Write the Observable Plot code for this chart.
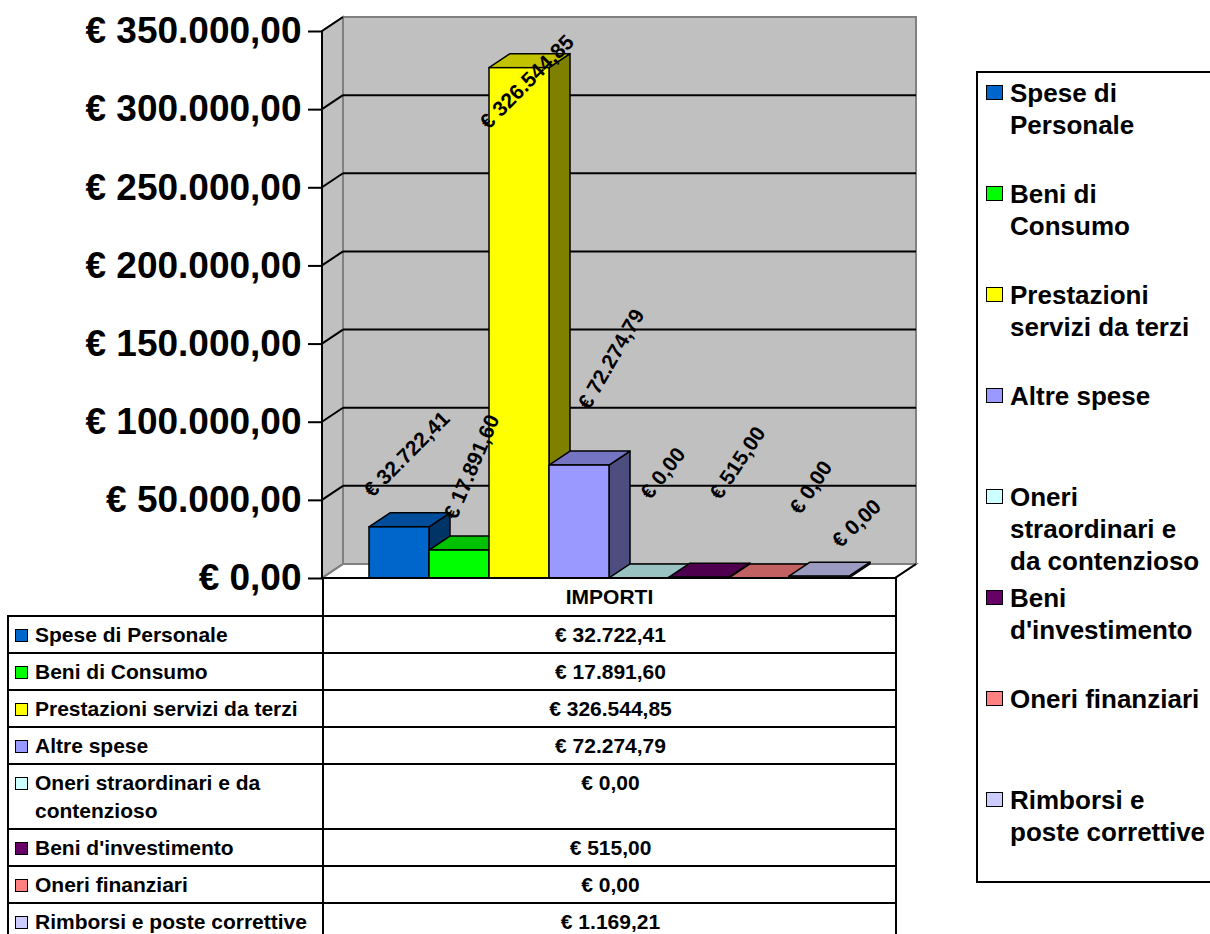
<!DOCTYPE html>
<html>
<head>
<meta charset="utf-8">
<script src="https://cdn.jsdelivr.net/npm/d3@7"></script>
<script src="https://cdn.jsdelivr.net/npm/@observablehq/plot@0.6"></script>
<style>
  html, body { margin: 0; padding: 0; background: #fff; }
  body { width: 1210px; height: 934px; overflow: hidden; position: relative;
         font-family: "Liberation Sans", Arial, sans-serif; }
  #chart { position: absolute; left: 0; top: 0; }
  #datatable { position: absolute; left: 7px; top: 577px; border-collapse: collapse;
               table-layout: fixed; font: bold 21px "Liberation Sans", Arial, sans-serif;
               line-height: 28px; color: #000; }
  #datatable td { padding: 4px 4px 3px 6px; vertical-align: top; }
  #datatable td.val { text-align: center; border: 2px solid #000; }
  #datatable td.cat { border: 2px solid #000; }
  #datatable td.blank { border: none; border-right: 2px solid #000; }
  #datatable td.head { border: 2px solid #000; text-align: center; vertical-align: middle; padding: 4px; }
  .catwrap { display: flex; align-items: flex-start; }
  .tmark { flex: none; width: 13px; height: 13px; box-sizing: border-box; border: 1.5px solid #000;
           margin-top: 8px; margin-right: 7px; }
  #legend { position: absolute; left: 976px; top: 71px; width: 260px; height: 812px;
            border: 2px solid #000; box-sizing: border-box; background: #fff; }
  .litem { position: absolute; left: 8px; }
  .lmark { position: absolute; left: 0; top: 8px; width: 17px; height: 15px; box-sizing: border-box;
           border: 1.5px solid #000; }
  .ltext { position: absolute; left: 24px; width: 200px; font: bold 26px "Liberation Sans", Arial, sans-serif;
           line-height: 32px; color: #000; }
</style>
</head>
<body>
<div id="chart"></div>
<script>
// ---------- data ----------
const categories = [
  "Spese di Personale",
  "Beni di Consumo",
  "Prestazioni servizi da terzi",
  "Altre spese",
  "Oneri straordinari e da contenzioso",
  "Beni d'investimento",
  "Oneri finanziari",
  "Rimborsi e poste correttive"
];
const values = [32722.41, 17891.60, 326544.85, 72274.79, 0, 515.00, 0, 1169.21];
const chartLabels = ["€ 32.722,41", "€ 17.891,60", "€ 326.544,85", "€ 72.274,79", "€ 0,00", "€ 515,00", "€ 0,00", "€ 0,00"];
const seriesColors = ["#0066CC", "#00FF00", "#FFFF00", "#9999FF", "#CCFFFF", "#660066", "#FF8080", "#CCCCFF"];
const yTicks = [0, 50000, 100000, 150000, 200000, 250000, 300000, 350000];
const columnHeader = "IMPORTI";

// ---------- styles (not data) ----------
const labelAngles = [-45, -67, -45, -60, -52, -56, -56, -44];
const labelOffsets = [[-27, -29], [-3, -30], [-31, 62], [10, -55], [11, -78], [21, -77], [41, -63], [21, -28]];
const DX = 21, DY = -14;
const WALL = "#C0C0C0", EDGE = "#808080";
const FONT = "Liberation Sans, Arial, sans-serif";

const rows = categories.map((name, i) => ({name, value: values[i], color: seriesColors[i], label: chartLabels[i]}));
const fmt = d3.formatLocale({decimal: ",", thousands: ".", grouping: [3], currency: ["€ ", ""]}).format("$,.2f");

function shade(c, k) {
  const r = d3.rgb(c);
  return d3.rgb(r.r * k, r.g * k, r.b * k).formatHex();
}

// walls, floor, gridlines, axis line
function scene(index, scales, vals, dims) {
  const y = scales.y;
  const L = dims.marginLeft, R = dims.width - dims.marginRight;
  const y0 = y(0), yTop = y(d3.max(yTicks));
  const g = d3.create("svg:g");
  g.append("path")
    .attr("d", `M${L},${yTop}L${L + DX},${yTop + DY}L${L + DX},${y0 + DY}L${L},${y0}Z`)
    .attr("fill", WALL).attr("stroke", EDGE).attr("stroke-width", 2);
  g.append("rect")
    .attr("x", L + DX).attr("y", yTop + DY).attr("width", R - L).attr("height", y0 - yTop)
    .attr("fill", WALL).attr("stroke", EDGE).attr("stroke-width", 2);
  g.append("path")
    .attr("d", `M${L},${y0}L${R},${y0}L${R + DX},${y0 + DY}L${L + DX},${y0 + DY}Z`)
    .attr("fill", "#fff").attr("stroke", EDGE).attr("stroke-width", 2);
  for (const v of yTicks) {
    const yy = y(v);
    if (v > 0 && v < d3.max(yTicks)) {
      g.append("line").attr("x1", L + DX).attr("x2", R + DX).attr("y1", yy + DY).attr("y2", yy + DY)
        .attr("stroke", "#000").attr("stroke-width", 2);
    }
    g.append("line").attr("x1", L).attr("x2", L + DX).attr("y1", yy).attr("y2", yy + DY)
      .attr("stroke", v === 0 ? EDGE : "#000").attr("stroke-width", 2);
  }
  g.append("line").attr("x1", R).attr("x2", R + DX).attr("y1", y0).attr("y2", y0 + DY)
    .attr("stroke", "#000").attr("stroke-width", 2);
  g.append("line").attr("x1", L).attr("x2", R).attr("y1", y0).attr("y2", y0)
    .attr("stroke", "#000").attr("stroke-width", 2);
  g.append("line").attr("x1", L).attr("x2", L).attr("y1", yTop).attr("y2", y0)
    .attr("stroke", "#000").attr("stroke-width", 2);
  return g.node();
}

// 3D tops and sides of the bars
function depthFaces(index, scales) {
  const {x, y} = scales;
  const bw = x.bandwidth ? x.bandwidth() : (x(categories[1]) - x(categories[0]));
  const g = d3.create("svg:g");
  for (const d of rows) {
    const x0 = x(d.name), x1 = x0 + bw, yt = y(d.value), yb = y(0);
    g.append("path")
      .attr("d", `M${x1},${yt}L${x1 + DX},${yt + DY}L${x1 + DX},${yb + DY}L${x1},${yb}Z`)
      .attr("fill", shade(d.color, 0.5)).attr("stroke", "#000").attr("stroke-width", 1.5)
      .attr("stroke-linejoin", "round");
    g.append("path")
      .attr("d", `M${x0},${yt}L${x0 + DX},${yt + DY}L${x1 + DX},${yt + DY}L${x1},${yt}Z`)
      .attr("fill", shade(d.color, 0.76)).attr("stroke", "#000").attr("stroke-width", 1.5)
      .attr("stroke-linejoin", "round");
  }
  return g.node();
}

const labelMarks = rows.map((d, i) => Plot.text([d], {
  x: "name", y: "value", text: "label",
  rotate: labelAngles[i], dx: labelOffsets[i][0], dy: labelOffsets[i][1],
  textAnchor: "start", lineAnchor: "bottom",
  fontSize: 21, fontWeight: "bold", fontFamily: FONT, fill: "#000"
}));

const chart = Plot.plot({
  width: 1210,
  height: 934,
  marginLeft: 322,
  marginRight: 315,
  marginTop: 31,
  marginBottom: 356,
  style: {fontFamily: FONT, background: "transparent", color: "#000"},
  x: {type: "band", domain: categories, paddingInner: 0, paddingOuter: 0.765, axis: null},
  y: {domain: [0, 350000], label: null},
  color: {type: "identity"},
  marks: [
    scene,
    depthFaces,
    Plot.barY(rows, {x: "name", y: "value", fill: "color", stroke: "#000", strokeWidth: 1.5}),
    Plot.axisY(yTicks, {
      label: null,
      tickSize: 14, tickPadding: 7, tickFormat: fmt, strokeWidth: 2,
      fontSize: 37, fontWeight: "bold", fontFamily: FONT, fill: "#000", stroke: "#000"
    }),
    ...labelMarks
  ]
});
document.getElementById("chart").appendChild(chart);

// ---------- data table ----------
const table = document.createElement("table");
table.id = "datatable";
const cg = document.createElement("colgroup");
for (const w of [315, 573]) {
  const c = document.createElement("col");
  c.style.width = w + "px";
  cg.appendChild(c);
}
table.appendChild(cg);
const hr = document.createElement("tr");
const hb = document.createElement("td"); hb.className = "blank";
const hh = document.createElement("td"); hh.className = "head"; hh.textContent = columnHeader;
hr.appendChild(hb); hr.appendChild(hh);
table.appendChild(hr);
rows.forEach(d => {
  const tr = document.createElement("tr");
  const c1 = document.createElement("td"); c1.className = "cat";
  const wrap = document.createElement("div"); wrap.className = "catwrap";
  const mk = document.createElement("span"); mk.className = "tmark"; mk.style.background = d.color;
  const tx = document.createElement("span"); tx.textContent = d.name;
  wrap.appendChild(mk); wrap.appendChild(tx); c1.appendChild(wrap);
  const c2 = document.createElement("td"); c2.className = "val"; c2.textContent = fmt(d.value);
  tr.appendChild(c1); tr.appendChild(c2);
  table.appendChild(tr);
});
document.body.appendChild(table);

// ---------- legend ----------
const legend = document.createElement("div");
legend.id = "legend";
rows.forEach((d, i) => {
  const it = document.createElement("div"); it.className = "litem";
  it.style.top = (4 + i * 101) + "px";
  const mk = document.createElement("div"); mk.className = "lmark"; mk.style.background = d.color;
  const tx = document.createElement("div"); tx.className = "ltext"; tx.textContent = d.name;
  it.appendChild(mk); it.appendChild(tx);
  legend.appendChild(it);
});
document.body.appendChild(legend);
</script>
</body>
</html>
